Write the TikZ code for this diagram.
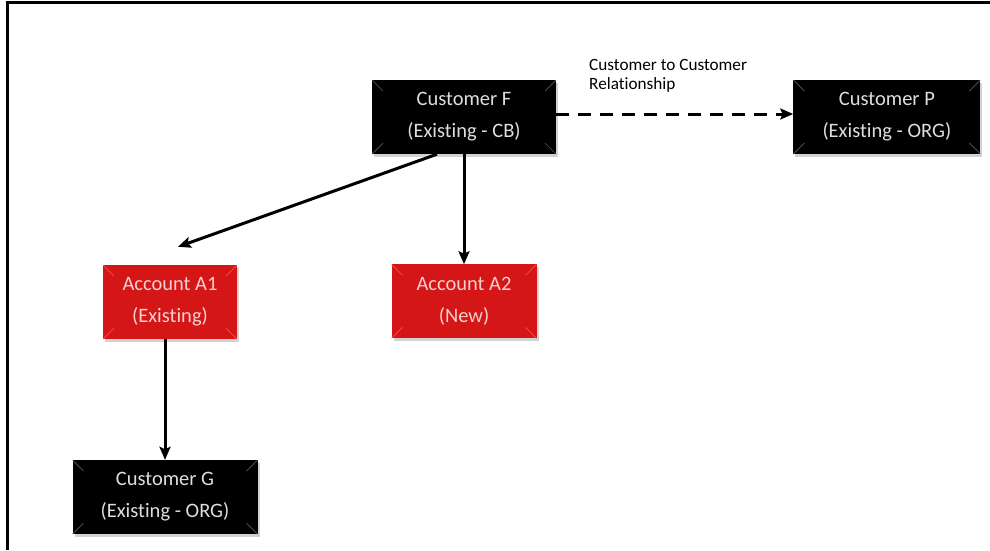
\documentclass[tikz,border=0pt]{standalone}
\usepackage{fontspec}
\setmainfont{Carlito}[Ligatures=NoCommon]
\usetikzlibrary{positioning,shadows}
\usetikzlibrary{arrows.meta}
\definecolor{accred}{RGB}{212,22,22}
\definecolor{custtext}{RGB}{222,222,222}
\definecolor{accttext}{RGB}{246,208,208}

\begin{document}
\begin{tikzpicture}[x=1pt, y=-1pt]
\tikzset{
    bevel/.style = {path picture={
        \draw[#1, line width=.7pt] (path picture bounding box.north west) -- ++(11,11);
        \draw[#1, line width=.7pt] (path picture bounding box.north east) -- ++(-11,11);
        \draw[#1, line width=.7pt] (path picture bounding box.south west) -- ++(11,-11);
        \draw[#1, line width=.7pt] (path picture bounding box.south east) -- ++(-11,-11);
    }},
    custbox/.style = {rectangle, fill=black, text=custtext, inner sep=0pt,
        minimum width=184pt, minimum height=74pt, align=center,
        font=\fontsize{20.5}{32}\selectfont, bevel=black!65!white,
        drop shadow={shadow xshift=2pt, shadow yshift=-3pt, fill=black!35, opacity=.5}},
    acctbox/.style = {custbox, fill=accred, text=accttext, bevel=red!70!white},
    link/.style = {draw, ->, >={Stealth[length=13pt, width=11pt, inset=2.5pt]}, line width=3pt},
    note/.style = {align=left, font=\fontsize{17.2}{19.5}\selectfont, inner sep=0pt},
}
\useasboundingbox (0,0) rectangle (990,550);

% frame -------------------------------------------------
\draw[line width=3.5pt] (7.5,550) -- (7.5,2.5) -- (990,2.5);

% nodes -------------------------------------------------
\node[custbox] (F) at (464,117) {Customer F \\ (Existing - CB)};
\node[custbox, minimum width=187pt, right=237pt of F] (P) {Customer P \\ (Existing - ORG)};

\node[acctbox, minimum width=134pt] (A1) at (170,302) {Account A1 \\ (Existing)};
\node[acctbox, minimum width=145pt, below=110pt of F] (A2) {Account A2 \\ (New)};

\node[custbox, minimum width=185pt] (G) at (165,497) {Customer G \\ (Existing - ORG)};

\node[note, anchor=north west] (rel) at (589,59) {Customer to Customer \\ Relationship};

\coordinate[above right=18pt and 8pt of A1.north] (A1tip);

% links -------------------------------------------------
\path[link] ([xshift=-27pt]F.south) -- (A1tip);
\path[link] (F.south -| A2.north) -- (A2.north);
\path[link] (A1.south -| G.north) -- (G.north);
\path[link, dash pattern=on 13pt off 9pt] ([yshift=3pt]F.east) -- ([yshift=3pt]F.east -| P.west);
\end{tikzpicture}
\end{document}
